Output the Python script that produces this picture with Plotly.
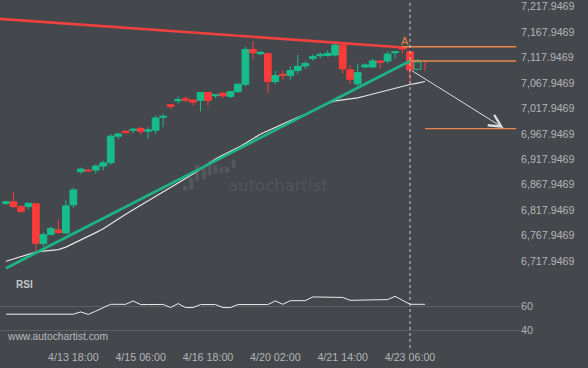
import plotly.graph_objects as go

# ---------------- data ----------------
candle_idx = list(range(55))
opens = [6830.6, 6834.0, 6824.2, 6824.8, 6830.1, 6751.8, 6770.0, 6778.6, 6772.8, 6828.1,
         6893.2, 6896.6, 6896.6, 6904.4, 6910.8, 6963.1, 6972.9, 6974.8, 6978.1, 6972.9,
         6974.8, 7000.2, 7025.1, 7032.9, 7036.8, 7034.1, 7033.5, 7049.1, 7042.7, 7047.8,
         7041.3, 7051.1, 7065.4, 7133.8, 7125.4, 7125.4, 7070.6, 7084.9, 7082.4, 7092.2,
         7101.4, 7116.2, 7121.5, 7122.1, 7122.9, 7142.4, 7093.5, 7066.1, 7099.4, 7099.4,
         7111.1, 7111.1, 7127.4, 7139.1, 7129.3]
highs = [6835.9, 6853.5, 6828.1, 6832.0, 6831.0, 6773.9, 6785.1, 6798.2, 6837.3, 6862.0,
         6901.1, 6898.5, 6907.7, 6915.5, 6967.6, 6969.5, 6973.8, 6979.3, 6982.6, 6980.7,
         7004.1, 7006.7, 7025.7, 7041.3, 7041.3, 7035.4, 7050.1, 7050.1, 7045.8, 7049.1,
         7052.5, 7067.3, 7139.1, 7150.3, 7130.7, 7127.4, 7091.6, 7093.5, 7100.0, 7122.9,
         7109.8, 7124.1, 7128.0, 7132.6, 7145.6, 7145.6, 7103.3, 7106.5, 7106.5, 7116.2,
         7111.7, 7129.3, 7130.7, 7139.1, 7129.3]
lows = [6828.1, 6821.7, 6813.1, 6819.7, 6736.2, 6745.9, 6767.5, 6771.4, 6771.4, 6821.7,
        6889.3, 6892.6, 6889.3, 6896.0, 6906.4, 6956.6, 6966.5, 6969.0, 6966.5, 6957.8,
        6967.6, 6980.7, 7017.3, 7027.0, 7030.2, 7023.1, 7012.0, 7023.1, 7038.0, 7038.0,
        7038.0, 7047.8, 7060.9, 7115.1, 7122.9, 7047.8, 7065.4, 7074.0, 7074.0, 7085.7,
        7095.5, 7111.1, 7116.2, 7119.6, 7119.6, 7085.7, 7065.4, 7058.9, 7096.7, 7096.7,
        7095.5, 7106.5, 7116.2, 7126.0, 7067.3]
closes = [6834.0, 6824.8, 6815.0, 6831.4, 6752.4, 6769.4, 6781.2, 6773.4, 6826.1, 6857.5,
          6898.5, 6895.2, 6904.4, 6910.8, 6963.1, 6967.6, 6970.3, 6976.8, 6972.9, 6975.4,
          6998.9, 7002.2, 7021.8, 7034.9, 7034.1, 7030.2, 7049.1, 7033.5, 7044.6, 7042.7,
          7051.1, 7065.4, 7133.8, 7127.4, 7128.0, 7070.6, 7082.4, 7082.4, 7092.2, 7100.6,
          7106.5, 7119.6, 7124.1, 7126.0, 7142.4, 7095.5, 7075.1, 7088.3, 7103.3, 7111.1,
          7108.4, 7124.8, 7129.3, 7134.6, 7093.5]

# forming candles after the signal
open_idx = [55]
open_o = [7094.7]
open_h = [7115.1]
open_l = [7094.1]
open_c = [7111.1]
tick_idx_last = [56, 56]
tick_last = [7091.6, 7113.1]

ma_idx = list(range(57))
ma_vals = [6717.2, 6721.5, 6726.4, 6731.3, 6735.2, 6737.2, 6738.1, 6740.1, 6745.0, 6751.8,
           6759.7, 6766.5, 6773.4, 6781.2, 6791.0, 6800.7, 6809.5, 6818.3, 6827.1, 6835.9,
           6844.7, 6853.5, 6861.4, 6870.2, 6879.0, 6888.8, 6898.5, 6908.3, 6918.1, 6925.9,
           6932.8, 6940.6, 6949.4, 6958.2, 6967.0, 6973.8, 6980.7, 6987.5, 6994.4, 7000.2,
           7006.1, 7013.0, 7019.8, 7027.6, 7032.5, 7034.5, 7036.4, 7038.4, 7042.3, 7046.2,
           7049.1, 7053.1, 7057.0, 7060.9, 7064.8, 7067.7, 7070.7]

rsi_vals = [53.4, 53.4, 53.4, 53.4, 53.4, 53.4, 53.4, 53.4, 53.4, 53.4,
            55.3, 53.2, 56.0, 59.0, 61.6, 61.6, 61.6, 64.4, 61.4, 61.4,
            61.4, 61.5, 58.9, 62.2, 58.9, 58.9, 61.4, 61.4, 61.4, 58.9,
            58.9, 61.4, 61.4, 61.4, 61.4, 61.4, 64.4, 61.6, 64.6, 64.6,
            64.6, 67.7, 67.7, 67.7, 67.7, 67.3, 64.9, 64.9, 64.9, 64.9,
            64.9, 65.5, 68.2, 64.9, 61.6, 61.6, 61.6]

resist_x = [-1.0, 53.6]
resist_y = [7194.1, 7137.2]
support_x = [0.0, 54.0]
support_y = [6703.5, 7111.1]

level_hi_x = [53.0, 68.2]
level_hi = 7139.1
level_lo_x = [54.0, 68.2]
level_lo = 7111.1
target_x = [56.0, 68.2]
target = 6978.1

signal_idx = 54
arrow_start = (54.1, 7093.5)
arrow_end = (66.5, 6979.3)
label_A = (53.35, 7151.0)

tick_idx = [9, 18, 27, 36, 45, 54]
tick_text = ["4/13 18:00", "4/15 06:00", "4/16 18:00", "4/20 02:00", "4/21 14:00", "4/23 06:00"]
price_ticks = [6717.9469, 6767.9469, 6817.9469, 6867.9469, 6917.9469, 6967.9469,
               7017.9469, 7067.9469, 7117.9469, 7167.9469, 7217.9469]
rsi_ticks = [40, 60]

# ---------------- style ----------------
BG = "#44474c"
GREEN = "#16bd8a"
RED = "#fb3a3a"
ORANGE = "#e8884a"
LABEL = "#b3b5b8"
FONT = "Liberation Sans, Arial, sans-serif"
W, H = 588, 368
PLOT_H = 349

fig = go.Figure()

fig.add_trace(go.Candlestick(
    x=candle_idx, open=opens, high=highs, low=lows, close=closes,
    increasing=dict(line=dict(color=GREEN, width=1), fillcolor=GREEN),
    decreasing=dict(line=dict(color=RED, width=1), fillcolor=RED),
    whiskerwidth=0, xaxis="x", yaxis="y", hoverinfo="skip"))

fig.add_trace(go.Candlestick(
    x=open_idx, open=open_o, high=open_h, low=open_l, close=open_c,
    increasing=dict(line=dict(color=GREEN, width=1), fillcolor=BG),
    decreasing=dict(line=dict(color=RED, width=1), fillcolor=BG),
    whiskerwidth=0, xaxis="x", yaxis="y", hoverinfo="skip"))

fig.add_trace(go.Scatter(x=tick_idx_last, y=tick_last, mode="lines",
                         line=dict(color=RED, width=1), xaxis="x", yaxis="y"))

fig.add_trace(go.Scatter(x=ma_idx, y=ma_vals, mode="lines",
                         line=dict(color="#e6e6e6", width=1.2), xaxis="x", yaxis="y"))

fig.add_trace(go.Scatter(x=support_x, y=support_y, mode="lines",
                         line=dict(color="#1db383", width=2.8), xaxis="x", yaxis="y"))
fig.add_trace(go.Scatter(x=resist_x, y=resist_y, mode="lines",
                         line=dict(color="#f0413f", width=2.6), xaxis="x", yaxis="y"))

for xs, lvl in ((level_hi_x, level_hi), (level_lo_x, level_lo), (target_x, target)):
    fig.add_trace(go.Scatter(x=xs, y=[lvl, lvl], mode="lines",
                             line=dict(color=ORANGE, width=1.3), xaxis="x", yaxis="y"))

fig.add_trace(go.Scatter(x=ma_idx, y=rsi_vals, mode="lines",
                         line=dict(color="#ececec", width=1), xaxis="x", yaxis="y2"))

# arrow
fig.add_annotation(x=arrow_end[0], y=arrow_end[1], ax=arrow_start[0], ay=arrow_start[1],
                   xref="x", yref="y", axref="x", ayref="y", text="", showarrow=True,
                   arrowhead=5, arrowsize=2.4, arrowwidth=1, arrowcolor="#dcdcdc")
fig.add_annotation(x=label_A[0], y=label_A[1], xref="x", yref="y", text="A", showarrow=False,
                   font=dict(family=FONT, size=11, color=ORANGE))

# vertical dashed signal line
fig.add_shape(type="line", x0=signal_idx, x1=signal_idx, xref="x", yref="paper",
              y0=0.003, y1=1, line=dict(color="#c9c9c9", width=1, dash="3px,3px"))

# watermark
def px(x):
    return x / W


def py(y):
    return 1 - y / PLOT_H


bars = [(183.3, 187.3, 185, 190), (189.3, 193.3, 176.7, 188.3), (195, 199, 164, 180),
        (201.7, 205.7, 166, 178.3), (207.7, 211.7, 159.3, 174), (213.3, 217.3, 164, 172.7),
        (219.3, 223.3, 166, 171.7), (225, 229, 166, 171.7), (231.7, 235.7, 158.3, 166.7)]
for b in bars:
    fig.add_shape(type="rect", xref="paper", yref="paper", x0=px(b[0]), x1=px(b[1]),
                  y0=py(b[3]), y1=py(b[2]), line=dict(width=0),
                  fillcolor="rgba(255,255,255,0.09)", layer="below")
fig.add_annotation(x=px(277.5), y=py(184.5), xref="paper", yref="paper", text="autochartist",
                   showarrow=False,
                   font=dict(family="DejaVu Sans ExtraLight, DejaVu Sans", size=16.5,
                             color="rgba(255,255,255,0.09)"))

fig.add_annotation(x=px(14), y=py(292), xref="paper", yref="paper", text="<b>RSI</b>",
                   showarrow=False, xanchor="left",
                   font=dict(family=FONT, size=10, color="#c3c5c8"))
fig.add_annotation(x=px(5), y=py(344), xref="paper", yref="paper", text="www.autochartist.com",
                   showarrow=False, xanchor="left",
                   font=dict(family=FONT, size=10.3, color="#b9bbbe"))

fig.update_layout(
    width=W, height=H, margin=dict(l=0, r=0, t=0, b=H - PLOT_H),
    paper_bgcolor=BG, plot_bgcolor=BG, showlegend=False,
    boxgap=0.1, boxgroupgap=0,
    xaxis=dict(domain=[0, 520 / W], range=[-0.8, 68.7], anchor="y2",
               tickvals=tick_idx, ticktext=tick_text, showgrid=False, zeroline=False,
               showline=False, ticks="", rangeslider=dict(visible=False),
               tickfont=dict(family=FONT, size=10.7, color=LABEL)),
    yaxis=dict(domain=[1 - 278 / PLOT_H, 1], range=[6683.36, 7227.14], side="right",
               anchor="x", tickvals=price_ticks, tickformat=",.4f", showgrid=False,
               zeroline=False, ticks="", showline=False, ticklabeloverflow="allow",
               tickfont=dict(family=FONT, size=10.7, color=LABEL)),
    yaxis2=dict(domain=[0, 69 / PLOT_H], range=[24.6, 81.4], side="right", anchor="x",
                tickvals=rsi_ticks, showgrid=True, gridcolor="#5b5e63", gridwidth=1,
                zeroline=False, ticks="", showline=False,
                tickfont=dict(family=FONT, size=10.7, color=LABEL)),
)

fig.write_html("out.html")
